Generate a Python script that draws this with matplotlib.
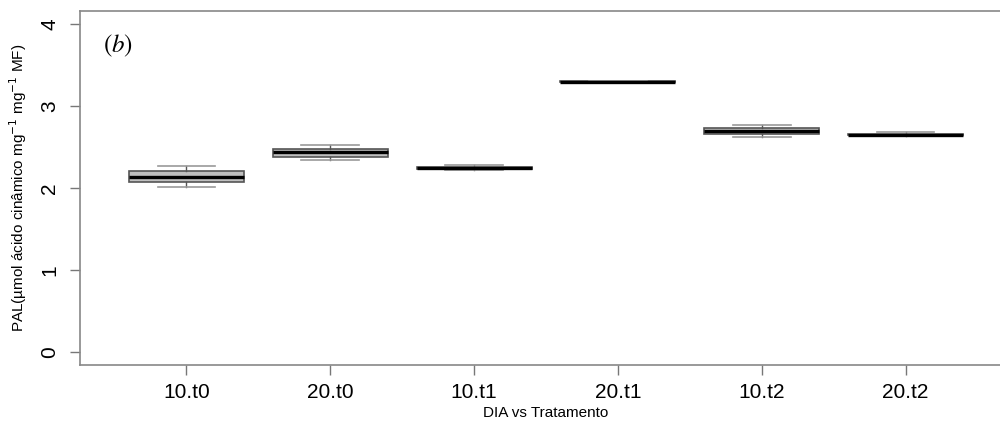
import matplotlib
matplotlib.use("Agg")
import matplotlib.pyplot as plt

# dados (PAL, dia x tratamento)
grupos = ["10.t0", "20.t0", "10.t1", "20.t1", "10.t2", "20.t2"]
whis_lo = [2.013, 2.339, 2.215, 3.295, 2.625, 2.640]
q1 = [2.075, 2.375, 2.235, 3.297, 2.661, 2.645]
mediana = [2.136, 2.441, 2.245, 3.300, 2.698, 2.650]
q3 = [2.209, 2.482, 2.255, 3.301, 2.735, 2.660]
whis_hi = [2.274, 2.527, 2.280, 3.302, 2.771, 2.685]
yticks = [0, 1, 2, 3, 4]

plt.rcParams['font.family'] = ['Liberation Sans', 'DejaVu Sans']

stats = []
for g, a, b, c, d, e in zip(grupos, whis_lo, q1, mediana, q3, whis_hi):
    stats.append(dict(label=g, whislo=a, q1=b, med=c, q3=d, whishi=e, fliers=[]))

fig = plt.figure(figsize=(10, 4.25), dpi=100)
ax = fig.add_axes([0.08, 0.141, 0.932, 0.833])

ax.bxp(stats, positions=range(1, 7), widths=0.8, capwidths=0.4,
       patch_artist=True, showfliers=False,
       boxprops=dict(facecolor="#bfbfbf", edgecolor="#555555", linewidth=1.2),
       medianprops=dict(color="black", linewidth=2.4),
       whiskerprops=dict(color="#555555", linewidth=1),
       capprops=dict(color="#999999", linewidth=1.2))

ax.set_xlim(0.26, 6.74)
ax.set_ylim(-0.16, 4.16)
ax.set_yticks(yticks)
ax.set_yticklabels([str(v) for v in yticks], rotation=90, va="center", fontsize=15)
ax.set_xticks(range(1, 7))
ax.set_xticklabels(grupos, fontsize=15)
ax.tick_params(axis="both", color="#777777", length=7, width=1)
ax.tick_params(axis="y", pad=8)
ax.tick_params(axis="x", pad=6)
for s in ax.spines.values():
    s.set_color("#888888")
    s.set_linewidth(1.2)

ax.set_xlabel("DIA vs Tratamento", fontsize=11, labelpad=3)
ax.set_ylabel(r"PAL(µmol ácido cinâmico mg$^{-1}$ mg$^{-1}$ MF)", fontsize=11, labelpad=8)

ax.text(0.025, 0.94, r"$(b)$", transform=ax.transAxes, fontsize=18,
        math_fontfamily="stix", va="top", ha="left")

fig.savefig("out.png", dpi=100)
